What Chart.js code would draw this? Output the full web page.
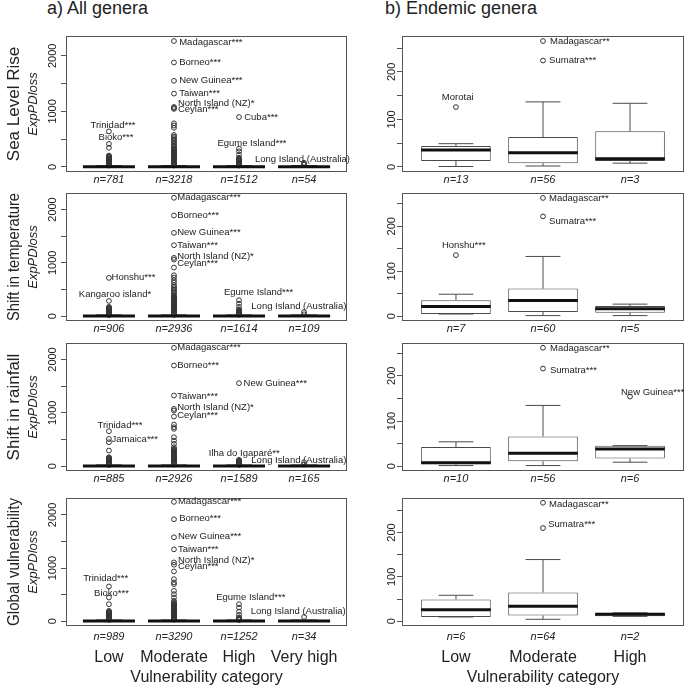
<!DOCTYPE html>
<html><head><meta charset="utf-8">
<script src="https://cdn.jsdelivr.net/npm/chart.js@4.4.1/dist/chart.umd.min.js"></script>
<style>
html,body{margin:0;padding:0;background:#fff;}
#root{position:relative;width:685px;height:687px;overflow:hidden;background:#fff}
canvas{position:absolute}
.ttl{position:absolute;font-family:"Liberation Sans",Arial,sans-serif;font-size:18px;line-height:18px;color:#222;white-space:nowrap}
</style></head>
<body><div id="root">
<div class="ttl" style="left:47px;top:-1px">a) All genera</div>
<div class="ttl" style="left:385px;top:-1px">b) Endemic genera</div>
</div>
<script>
// ---------- categories, titles, ticks ----------
const catsAll = ['Low', 'Moderate', 'High', 'Very high'];
const catsEnd = ['Low', 'Moderate', 'High'];
const rowNames = ['Sea Level Rise', 'Shift in temperature', 'Shift in rainfall', 'Global vulnerability'];
const yTitle = 'ExpPDloss';
const xTitle = 'Vulnerability category';
const ticksAll = [0, 500, 1000, 1500, 2000];
const tickLabelsAll = ['0', '', '1000', '', '2000'];
const ticksEnd = [0, 50, 100, 150, 200, 250];
const tickLabelsEnd = ['0', '', '100', '', '200', ''];

// ---------- a) All genera ----------
// box stats per category: [lower whisker, Q1, median, Q3, upper whisker]
const seaAllN = [781, 3218, 1512, 54];
const seaAllRange = [-91, 2357];
const seaAllBox = [[0, 0, 3, 10, 25], [0, 0, 3, 10, 25], [0, 0, 3, 10, 25], [0, 0, 3, 10, 25]];
const seaAllOut = [
  [640, 415, 345, 205, 193, 181, 169, 157, 145, 133, 121, 109, 97, 85, 73, 61, 49, 37, 25],
  [2266, 1880, 1550, 1320, 1080, 1062, 1045, 785, 745, 705, 575, 548, 520, 492, 465, 438, 410, 385, 360, 335, 318, 302, 288, 274, 260, 246, 232, 218, 204, 190, 176, 162, 148, 134, 120, 106, 92, 78, 64, 50, 36, 25],
  [898, 330, 281, 222, 165, 152, 139, 126, 113, 100, 87, 74, 61, 48, 35, 25],
  [75, 55, 40]
];
const seaAllLab = [[2.08, 2240, 'Madagascar***'], [2.08, 1880, 'Borneo***'], [2.08, 1550, 'New Guinea***'], [2.08, 1330, 'Taiwan***'],
  [2.06, 1148, 'North Island (NZ)*'], [2.06, 1029, 'Ceylan***'], [3.08, 898, 'Cuba***'],
  [1.063, 750, 'Trinidad***'], [1.109, 530, 'Bioko***'], [3.199, 422, 'Egume Island***'], [3.976, 143, 'Long Island (Australia)']];
const seaAllAlign = ['l', 'l', 'l', 'l', 'l', 'l', 'l', 'c', 'c', 'c', 'c'];

const tempAllN = [906, 2936, 1614, 109];
const tempAllRange = [-89, 2309];
const tempAllBox = [[0, 0, 3, 10, 25], [0, 0, 3, 10, 25], [0, 0, 3, 10, 25], [0, 0, 3, 10, 25]];
const tempAllOut = [
  [719, 287, 175, 163, 151, 139, 127, 115, 103, 91, 79, 67, 55, 43, 31, 22],
  [2219, 1887, 1562, 1331, 1094, 1062, 912, 769, 725, 675, 631, 581, 552, 524, 496, 468, 440, 412, 385, 362, 348, 334, 320, 306, 292, 278, 264, 250, 236, 222, 208, 194, 180, 166, 152, 138, 124, 110, 96, 82, 68, 54, 40, 26],
  [300, 237, 175, 125, 112, 100, 88, 76, 64, 52, 40, 28],
  [81, 37]
];
const tempAllLab = [[2.05, 2225, 'Madagascar***'], [2.05, 1887, 'Borneo***'], [2.05, 1569, 'New Guinea***'], [2.05, 1337, 'Taiwan***'],
  [2.05, 1125, 'North Island (NZ)*'], [2.05, 987, 'Ceylan***'], [1.04, 725, 'Honshu***'],
  [1.093, 412, 'Kangaroo island*'], [3.30, 444, 'Egume Island***'], [3.92, 187, 'Long Island (Australia)']];
const tempAllAlign = ['l', 'l', 'l', 'l', 'l', 'l', 'l', 'c', 'c', 'c'];

const rainAllN = [885, 2926, 1589, 165];
const rainAllRange = [-89, 2309];
const rainAllBox = [[0, 0, 3, 10, 25], [0, 0, 3, 10, 25], [0, 0, 3, 10, 25], [0, 0, 3, 10, 25]];
const rainAllOut = [
  [656, 512, 450, 294, 169, 157, 145, 133, 121, 109, 97, 85, 73, 61, 49, 37, 25],
  [2219, 1887, 1325, 1075, 1044, 931, 781, 731, 700, 544, 481, 419, 356, 325, 311, 297, 283, 269, 255, 241, 227, 213, 199, 185, 171, 157, 143, 129, 115, 101, 87, 73, 59, 45, 31],
  [1556, 120, 108, 96, 84, 72, 60, 48, 36, 25],
  [75, 31]
];
const rainAllLab = [[2.05, 2219, 'Madagascar***'], [2.05, 1887, 'Borneo***'], [3.07, 1544, 'New Guinea***'], [2.05, 1312, 'Taiwan***'],
  [2.05, 1094, 'North Island (NZ)*'], [2.05, 962, 'Ceylan***'], [1.04, 506, 'Jamaica***'],
  [1.17, 762, 'Trinidad***'], [3.08, 244, 'Ilha do Igaparé**'], [3.92, 119, 'Long Island (Australia)']];
const rainAllAlign = ['l', 'l', 'l', 'l', 'l', 'l', 'l', 'c', 'c', 'c'];

const globAllN = [989, 3290, 1252, 34];
const globAllRange = [-89, 2318];
const globAllBox = [[0, 0, 3, 10, 25], [0, 0, 3, 10, 25], [0, 0, 3, 10, 25], [0, 0, 3, 10, 25]];
const globAllOut = [
  [654, 447, 321, 195, 183, 171, 159, 147, 135, 123, 111, 99, 87, 75, 63, 51, 39, 27],
  [2245, 1918, 1579, 1352, 1107, 1063, 937, 792, 730, 698, 572, 509, 447, 384, 352, 338, 324, 310, 296, 282, 268, 254, 240, 226, 212, 198, 184, 170, 156, 142, 128, 114, 100, 86, 72, 58, 44, 30],
  [321, 258, 182, 120, 70, 58, 46, 34, 24],
  [82]
];
const globAllLab = [[2.06, 2250, 'Madagascar***'], [2.08, 1930, 'Borneo***'], [2.06, 1590, 'New Guinea***'], [2.06, 1360, 'Taiwan***'],
  [2.06, 1145, 'North Island (NZ)*'], [2.06, 1025, 'Ceylan***'],
  [0.95, 811, 'Trinidad***'], [1.04, 528, 'Bioko***'], [3.18, 447, 'Egume Island***'], [3.91, 195, 'Long Island (Australia)']];
const globAllAlign = ['l', 'l', 'l', 'l', 'l', 'l', 'c', 'c', 'c', 'c'];

// ---------- b) Endemic genera ----------
const seaEndN = [13, 56, 3];
const seaEndRange = [-10.6, 275.6];
const seaEndBox = [[1, 12.5, 35.5, 44, 49], [2, 8, 30, 63, 137], [8, 12.5, 17.5, 75, 134]];
const seaEndOut = [[126], [265, 224], []];
const seaEndLab = [[2.08, 265, 'Madagascar**'], [2.07, 224, 'Sumatra***'], [1.02, 146, 'Morotai']];
const seaEndAlign = ['l', 'l', 'c'];

const tempEndN = [7, 60, 5];
const tempEndRange = [-10.5, 274];
const tempEndBox = [[5, 5, 21.5, 35.5, 49], [1.5, 9.6, 35, 61.5, 133], [1.5, 8, 17, 23, 27]];
const tempEndOut = [[136], [263, 222], []];
const tempEndLab = [[2.07, 263, 'Madagascar**'], [2.07, 211, 'Sumatra***'], [1.09, 157, 'Honshu***']];
const tempEndAlign = ['l', 'l', 'c'];

const rainEndN = [10, 56, 6];
const rainEndRange = [-10.5, 272.5];
const rainEndBox = [[1.5, 4.4, 8, 42.6, 54], [1.5, 11, 29, 66, 134.5], [9, 17, 38, 45.6, 45.6]];
const rainEndOut = [[], [262, 216], [154]];
const rainEndLab = [[2.08, 261, 'Madagascar**'], [2.08, 213, 'Sumatra***'], [3.26, 164, 'New Guinea***']];
const rainEndAlign = ['l', 'l', 'c'];

const globEndN = [6, 64, 2];
const globEndRange = [-10.7, 277.7];
const globEndBox = [[9.6, 9.6, 26, 49, 58.5], [4.4, 13, 34, 65, 139], [11, 11, 15.5, 19, 19]];
const globEndOut = [[], [267, 210], []];
const globEndLab = [[2.07, 264, 'Madagascar**'], [2.06, 218, 'Sumatra***']];
const globEndAlign = ['l', 'l'];

const panels = [
  {row: 0, col: 0, n: seaAllN, yr: seaAllRange, box: seaAllBox, out: seaAllOut, lab: seaAllLab, align: seaAllAlign},
  {row: 0, col: 1, n: seaEndN, yr: seaEndRange, box: seaEndBox, out: seaEndOut, lab: seaEndLab, align: seaEndAlign},
  {row: 1, col: 0, n: tempAllN, yr: tempAllRange, box: tempAllBox, out: tempAllOut, lab: tempAllLab, align: tempAllAlign},
  {row: 1, col: 1, n: tempEndN, yr: tempEndRange, box: tempEndBox, out: tempEndOut, lab: tempEndLab, align: tempEndAlign},
  {row: 2, col: 0, n: rainAllN, yr: rainAllRange, box: rainAllBox, out: rainAllOut, lab: rainAllLab, align: rainAllAlign},
  {row: 2, col: 1, n: rainEndN, yr: rainEndRange, box: rainEndBox, out: rainEndOut, lab: rainEndLab, align: rainEndAlign},
  {row: 3, col: 0, n: globAllN, yr: globAllRange, box: globAllBox, out: globAllOut, lab: globAllLab, align: globAllAlign},
  {row: 3, col: 1, n: globEndN, yr: globEndRange, box: globEndBox, out: globEndOut, lab: globEndLab, align: globEndAlign}
];

// ---------- layout ----------
const FONT = '"Liberation Sans", Arial, Helvetica, sans-serif';
Chart.defaults.font.family = FONT;
Chart.defaults.color = '#222';
const rowTop = [36, 193, 343, 498];
const rowBot = [172, 321, 471, 626];
const LINE = '#4a4a4a';

function boxPlugin(p) {
  return {
    id: 'boxdraw',
    afterDatasetsDraw(chart) {
      const ctx = chart.ctx, a = chart.chartArea, x = chart.scales.x, y = chart.scales.y;
      ctx.save();
      const hw = x.getPixelForValue(1.4) - x.getPixelForValue(1);
      p.box.forEach((b, i) => {
        const cx = x.getPixelForValue(i + 1);
        const py = b.map(v => y.getPixelForValue(v));
        ctx.strokeStyle = LINE; ctx.lineWidth = 1;
        ctx.beginPath();
        ctx.moveTo(cx, py[1]); ctx.lineTo(cx, py[0]);
        ctx.moveTo(cx, py[3]); ctx.lineTo(cx, py[4]);
        ctx.moveTo(cx - hw / 2, py[0]); ctx.lineTo(cx + hw / 2, py[0]);
        ctx.moveTo(cx - hw / 2, py[4]); ctx.lineTo(cx + hw / 2, py[4]);
        ctx.stroke();
        ctx.strokeStyle = '#111'; ctx.lineWidth = 3;
        ctx.beginPath(); ctx.moveTo(cx - hw, py[2]); ctx.lineTo(cx + hw, py[2]); ctx.stroke();
      });
      ctx.strokeStyle = '#555'; ctx.lineWidth = 1;
      ctx.strokeRect(a.left + 0.5, a.top + 0.5, a.right - a.left - 1, a.bottom - a.top - 1);
      ctx.font = '9.5px ' + FONT; ctx.fillStyle = '#222'; ctx.textBaseline = 'middle';
      p.lab.forEach((l, i) => {
        ctx.textAlign = p.align[i] === 'l' ? 'left' : 'center';
        ctx.fillText(l[2], x.getPixelForValue(l[0]), y.getPixelForValue(l[1]));
      });
      ctx.restore();
    }
  };
}

const root = document.getElementById('root');
panels.forEach(p => {
  const L = p.col === 0;
  const last = p.row === 3;
  const cats = L ? catsAll : catsEnd;
  const PT = 8, nH = 18;
  const x2H = last ? 687 - rowBot[3] - nH : 0;
  const cl = L ? 0 : 360;
  const cw = L ? 356 : 330;
  const fl = L ? 66 : 402;
  const fr = L ? 347 : 684;
  const top = rowTop[p.row] - PT;
  const ch = PT + rowBot[p.row] - rowTop[p.row] + nH + x2H;
  const cv = document.createElement('canvas');
  cv.width = cw; cv.height = ch;
  cv.style.left = cl + 'px'; cv.style.top = top + 'px';
  cv.style.width = cw + 'px'; cv.style.height = ch + 'px';
  root.appendChild(cv);
  const tFont = 17, tPad = 3.8;
  const titleW = L ? tFont * 1.2 + tPad : 0;
  const yW = (fl - cl) - titleW;
  const xr = L ? [0.34, 4.66] : [0.38, 3.62];
  const tks = L ? ticksAll : ticksEnd;
  const tls = L ? tickLabelsAll : tickLabelsEnd;
  const outData = [];
  p.out.forEach((arr, i) => arr.forEach(v => outData.push({x: i + 1, y: v})));

  const scales = {
    x: {
      type: 'linear', position: 'bottom', min: xr[0], max: xr[1], offset: false, weight: 1,
      afterBuildTicks: s => { s.ticks = cats.map((c, i) => ({value: i + 1})); },
      afterFit: s => { s.height = nH; },
      grid: {display: false, drawTicks: false}, border: {display: false},
      ticks: {autoSkip: false, maxRotation: 0, minRotation: 0, padding: last ? 4 : 1, color: '#222',
        font: {size: 11, style: 'italic'}, callback: (v, i) => 'n=' + p.n[i]}
    },
    y: {
      type: 'linear', position: 'left', min: p.yr[0], max: p.yr[1],
      afterBuildTicks: s => { s.ticks = tks.map(v => ({value: v})); },
      afterFit: s => { s.width = yW; },
      grid: {display: true, drawOnChartArea: false, drawTicks: true, tickLength: 5, color: '#555', lineWidth: 1},
      border: {display: false},
      ticks: {autoSkip: false, minRotation: 90, maxRotation: 90, crossAlign: 'center', padding: -4,
        color: '#222', font: {size: 11}, callback: (v, i) => tls[i]},
      title: {display: L, text: yTitle, color: '#222', font: {size: 13, style: 'italic'}, padding: {top: 1, bottom: 0}}
    }
  };
  if (last) {
    scales.x2 = {
      type: 'linear', position: 'bottom', min: xr[0], max: xr[1], offset: false, weight: 2,
      afterBuildTicks: s => { s.ticks = cats.map((c, i) => ({value: i + 1})); },
      afterFit: s => { s.height = x2H; },
      grid: {display: false, drawTicks: false}, border: {display: false},
      ticks: {autoSkip: false, maxRotation: 0, minRotation: 0, padding: 4, color: '#222',
        font: {size: 16}, callback: (v, i) => cats[i]},
      title: {display: true, text: xTitle, color: '#222', font: {size: 16}, padding: {top: 0, bottom: 0}}
    };
  }

  new Chart(cv, {
    type: 'bar',
    data: {
      datasets: [
        {type: 'bar', data: p.box.map((b, i) => ({x: i + 1, y: [b[1], b[3]]})),
          backgroundColor: '#fff', borderColor: LINE, borderWidth: 1, borderSkipped: false,
          barPercentage: 0.8, categoryPercentage: 1, order: 2},
        {type: 'scatter', data: outData, pointRadius: 2.4, pointStyle: 'circle',
          borderColor: '#333', backgroundColor: 'rgba(0,0,0,0)', borderWidth: 1, order: 1}
      ]
    },
    options: {
      responsive: false, animation: false, devicePixelRatio: 1, events: [],
      layout: {padding: {top: PT, right: cw - (fr - cl), bottom: 0, left: 0}},
      plugins: {
        legend: {display: false}, tooltip: {enabled: false},
        title: {display: L, text: rowNames[p.row], position: 'left', fullSize: false, align: 'center',
          color: '#222', font: {size: tFont, weight: 'normal'}, padding: {top: tPad, bottom: 0}}
      },
      scales: scales
    },
    plugins: [boxPlugin(p)]
  });
});
</script></body></html>
